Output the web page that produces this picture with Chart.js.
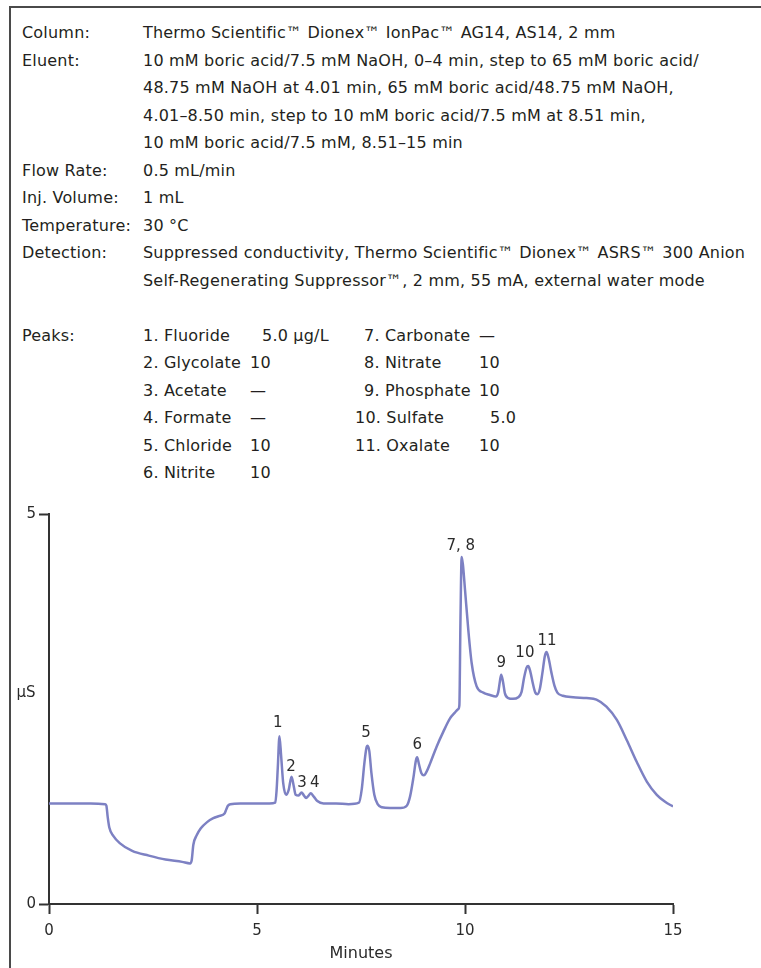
<!DOCTYPE html>
<html>
<head>
<meta charset="utf-8">
<script src="https://cdn.jsdelivr.net/npm/chart.js@4"></script>
<style>
  html, body { margin: 0; padding: 0; background: #fff; }
  body { width: 761px; height: 968px; position: relative; overflow: hidden; font-family: "DejaVu Sans", Verdana, sans-serif; color: #231f20; }
  #frame { position: absolute; left: 9px; top: 6px; width: 800px; height: 1000px; border-left: 2px solid #4a4a4a; border-top: 2px solid #4a4a4a; }
  #info { position: absolute; left: 0; top: 19px; width: 761px; font-size: 16px; letter-spacing: 0.2px; }
  .row { position: relative; height: 27.5px; line-height: 27.5px; white-space: nowrap; }
  .row span { position: absolute; top: 0; }
  .lab { left: 22px; }
  .val { left: 143px; }
  #wrap { position: absolute; left: 0; top: 480px; width: 761px; height: 488px; }
</style>
</head>
<body>
<div id="frame"></div>
<div id="info">
  <div class="row"><span class="lab">Column:</span><span class="val">Thermo Scientific™ Dionex™ IonPac™ AG14, AS14, 2 mm</span></div>
  <div class="row"><span class="lab">Eluent:</span><span class="val">10 mM boric acid/7.5 mM NaOH, 0–4 min, step to 65 mM boric acid/</span></div>
  <div class="row"><span class="val">48.75 mM NaOH at 4.01 min, 65 mM boric acid/48.75 mM NaOH,</span></div>
  <div class="row"><span class="val">4.01–8.50 min, step to 10 mM boric acid/7.5 mM at 8.51 min,</span></div>
  <div class="row"><span class="val">10 mM boric acid/7.5 mM, 8.51–15 min</span></div>
  <div class="row"><span class="lab">Flow Rate:</span><span class="val">0.5 mL/min</span></div>
  <div class="row"><span class="lab">Inj. Volume:</span><span class="val">1 mL</span></div>
  <div class="row"><span class="lab">Temperature:</span><span class="val">30 °C</span></div>
  <div class="row"><span class="lab">Detection:</span><span class="val">Suppressed conductivity, Thermo Scientific™ Dionex™ ASRS™ 300 Anion</span></div>
  <div class="row"><span class="val">Self-Regenerating Suppressor™, 2 mm, 55 mA, external water mode</span></div>
  <div class="row"></div>
  <div class="row"><span class="lab">Peaks:</span><span style="left:143px">1. Fluoride</span><span style="left:262px">5.0 µg/L</span><span style="left:364px">7. Carbonate</span><span style="left:479px">—</span></div>
  <div class="row"><span style="left:143px">2. Glycolate</span><span style="left:250px">10</span><span style="left:364px">8. Nitrate</span><span style="left:479px">10</span></div>
  <div class="row"><span style="left:143px">3. Acetate</span><span style="left:250px">—</span><span style="left:364px">9. Phosphate</span><span style="left:479px">10</span></div>
  <div class="row"><span style="left:143px">4. Formate</span><span style="left:250px">—</span><span style="left:355px">10. Sulfate</span><span style="left:490px">5.0</span></div>
  <div class="row"><span style="left:143px">5. Chloride</span><span style="left:250px">10</span><span style="left:355px">11. Oxalate</span><span style="left:479px">10</span></div>
  <div class="row"><span style="left:143px">6. Nitrite</span><span style="left:250px">10</span></div>
</div>
<div id="wrap"><canvas id="c" width="761" height="488"></canvas></div>
<script>
// ---- data (minutes, µS) ----
const times = [
  0, 0.5, 1.0, 1.35, 1.38, 1.41, 1.45, 1.55, 1.7, 2.0, 2.4, 2.8, 3.2, 3.39,
  3.43, 3.47, 3.55, 3.65, 3.8, 3.95, 4.1, 4.22, 4.26, 4.3, 4.36, 4.6, 5.0, 5.3, 5.44,
  5.47, 5.50, 5.54, 5.58, 5.63, 5.70, 5.76, 5.83, 5.88, 5.93, 6.0, 6.07, 6.13, 6.18, 6.24, 6.29, 6.36, 6.45, 6.6, 6.9,
  7.2, 7.45, 7.52, 7.58, 7.63, 7.66, 7.70, 7.75, 7.82, 7.90, 8.0, 8.2, 8.45, 8.6,
  8.68, 8.76, 8.82, 8.85, 8.89, 8.95, 9.01, 9.08, 9.16, 9.32, 9.48, 9.64, 9.75, 9.84,
  9.865, 9.89, 9.92, 9.95, 10.0, 10.08, 10.16, 10.28, 10.44, 10.6, 10.74,
  10.80, 10.84, 10.87, 10.91, 10.96, 11.04, 11.15, 11.28, 11.36, 11.42, 11.48, 11.52, 11.57, 11.63, 11.69, 11.74,
  11.80, 11.86, 11.92, 11.96, 12.01, 12.08, 12.15, 12.22, 12.35, 12.6, 12.92, 13.16, 13.4, 13.65, 13.89,
  14.13, 14.37, 14.61, 14.81, 15.0
];
const signal = [
  1.29, 1.29, 1.29, 1.28, 1.26, 1.12, 0.98, 0.87, 0.78, 0.68, 0.62, 0.57, 0.54, 0.52,
  0.56, 0.76, 0.88, 0.97, 1.05, 1.10, 1.13, 1.16, 1.21, 1.26, 1.28, 1.29, 1.29, 1.29, 1.30,
  1.45, 1.75, 2.15, 1.90, 1.55, 1.40, 1.46, 1.63, 1.52, 1.40, 1.39, 1.43, 1.39, 1.36, 1.39, 1.42, 1.38, 1.32, 1.29, 1.29,
  1.28, 1.30, 1.48, 1.80, 2.00, 2.03, 1.96, 1.68, 1.40, 1.28, 1.24, 1.23, 1.23, 1.26,
  1.38, 1.62, 1.84, 1.88, 1.80, 1.68, 1.65, 1.70, 1.80, 2.02, 2.21, 2.38, 2.45, 2.50,
  2.55, 3.60, 4.45, 4.35, 4.03, 3.51, 3.09, 2.79, 2.71, 2.68, 2.66,
  2.72, 2.86, 2.94, 2.86, 2.70, 2.64, 2.63, 2.65, 2.72, 2.90, 3.03, 3.05, 2.98, 2.83, 2.71, 2.69,
  2.76, 2.96, 3.18, 3.23, 3.15, 2.96, 2.80, 2.71, 2.67, 2.65, 2.64, 2.62, 2.53, 2.36, 2.10,
  1.82, 1.57, 1.40, 1.31, 1.25
];
const peakNames  = ['1', '2', '3', '4', '5', '6', '7, 8', '9', '10', '11'];
const peakTimes  = [5.50, 5.82, 6.08, 6.39, 7.62, 8.85, 9.90, 10.87, 11.44, 11.97];
const peakLabelY = [2.32, 1.76, 1.55, 1.55, 2.19, 2.04, 4.59, 3.09, 3.22, 3.37];
const xTicks = [0, 5, 10, 15];
const yTicks = [0, 5];

const points = times.map((t, i) => ({ x: t, y: signal[i] }));
const ink = '#2b2b2b';

const annot = {
  id: 'annot',
  afterDatasetsDraw(chart) {
    const { ctx, scales: { x, y } } = chart;
    ctx.save();
    ctx.fillStyle = ink;
    ctx.font = '15px "DejaVu Sans"';
    ctx.textAlign = 'center';
    ctx.textBaseline = 'middle';
    peakNames.forEach((n, i) => {
      ctx.fillText(n, x.getPixelForValue(peakTimes[i]), y.getPixelForValue(peakLabelY[i]));
    });
    ctx.fillText('µS', 26, y.getPixelForValue(2.7));
    ctx.restore();
  }
};

new Chart(document.getElementById('c'), {
  type: 'line',
  data: {
    datasets: [{
      data: points,
      borderColor: '#7d81c3',
      borderWidth: 2.5,
      pointRadius: 0,
      fill: false,
      cubicInterpolationMode: 'monotone'
    }]
  },
  options: {
    responsive: false,
    animation: false,
    events: [],
    layout: { padding: { left: 0, right: 88, top: 34, bottom: 0 } },
    plugins: { legend: { display: false }, tooltip: { enabled: false } },
    scales: {
      x: {
        type: 'linear', min: 0, max: 15,
        afterFit(s) { s.height = 64; },
        afterBuildTicks(s) { s.ticks = xTicks.map(v => ({ value: v })); },
        grid: { display: true, drawOnChartArea: false, drawTicks: true, tickLength: 10, tickWidth: 2, tickColor: '#333' },
        border: { display: true, color: '#333', width: 2 },
        ticks: { color: ink, font: { family: 'DejaVu Sans', size: 15 }, padding: 8, maxRotation: 0 },
        title: { display: true, text: 'Minutes', color: ink, font: { family: 'DejaVu Sans', size: 16 }, padding: { top: 4, bottom: 5 } }
      },
      y: {
        type: 'linear', min: 0, max: 5,
        afterFit(s) { s.width = 49; },
        afterBuildTicks(s) { s.ticks = yTicks.map(v => ({ value: v })); },
        grid: { display: true, drawOnChartArea: false, drawTicks: true, tickLength: 10, tickWidth: 2, tickColor: '#333' },
        border: { display: true, color: '#333', width: 2 },
        ticks: { color: ink, font: { family: 'DejaVu Sans', size: 15 }, padding: 3 }
      }
    }
  },
  plugins: [annot]
});
</script>
</body>
</html>
